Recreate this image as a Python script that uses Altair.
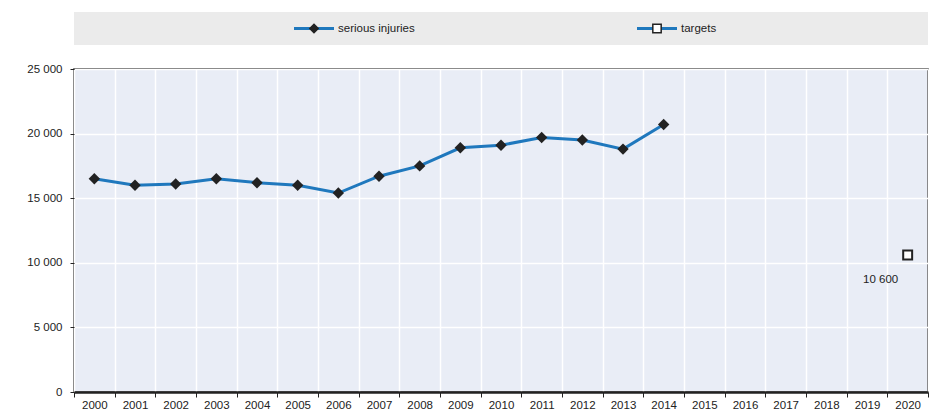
import altair as alt
import pandas as pd

years_all = list(range(2000, 2021))
inj_years = list(range(2000, 2015))
inj_values = [16500, 16000, 16100, 16500, 16200, 16000, 15400, 16700, 17500,
              18900, 19100, 19700, 19500, 18800, 20700]
target_years = [2020]
target_values = [10600]
y_ticks = [0, 5000, 10000, 15000, 20000, 25000]

legend_labels = ["serious injuries", "targets"]
legend_shapes = ["diamond", "square"]
legend_fills = ["#222222", "white"]
legend_center = [240, 583]

FONT = "Liberation Sans Narrow, Arial Narrow, Liberation Sans, Arial, sans-serif"
FS = 11.5
BLUE = "#1f78bd"
DARK = "#222222"
W, H = 854, 323

inj = pd.DataFrame({"year": inj_years, "value": inj_values})
tgt = pd.DataFrame({"year": target_years, "value": target_values})
tgt["label"] = [f"{v:,}".replace(",", " ") for v in target_values]

leg = pd.DataFrame({"label": legend_labels, "shape": legend_shapes,
                    "fill": legend_fills, "c": legend_center})
leg["x0"] = leg["c"] - 20
leg["x1"] = leg["c"] + 20
leg["tx"] = leg["c"] + 24

lx = alt.Scale(domain=[0, W], range=[0, W])
ybase = alt.value(16.5)
leg_line = alt.Chart(leg).mark_rule(color=BLUE, strokeWidth=3).encode(
    x=alt.X("x0:Q", scale=lx, axis=None), x2="x1:Q", y=ybase)
leg_pt = alt.Chart(leg).mark_point(filled=True, opacity=1, size=70, stroke=DARK, strokeWidth=1.5).encode(
    x=alt.X("c:Q", scale=lx, axis=None), y=ybase,
    shape=alt.Shape("shape:N", scale=None),
    fill=alt.Fill("fill:N", scale=None))
leg_txt = alt.Chart(leg).mark_text(align="left", baseline="middle", font=FONT, fontSize=FS, color=DARK).encode(
    x=alt.X("tx:Q", scale=lx, axis=None), y=ybase, text="label:N")
legend = alt.layer(leg_line, leg_pt, leg_txt).properties(
    width=W, height=33, view=alt.ViewBackground(fill="#ebebeb", stroke=None))

xenc = alt.X("year:O", scale=alt.Scale(domain=years_all, paddingInner=0, paddingOuter=0),
             axis=alt.Axis(title=None, labelAngle=0, tickBand="extent", grid=True,
                           gridColor="white", gridWidth=1.5, gridOpacity=1,
                           domainColor=DARK, domainWidth=2.5, tickColor=DARK, tickSize=5,
                           labelPadding=2, labelFont=FONT, labelFontSize=FS, labelColor=DARK))
yenc = alt.Y("value:Q", scale=alt.Scale(domain=[0, 25000], nice=False),
             axis=alt.Axis(title=None, values=y_ticks, grid=True, gridColor="white",
                           gridWidth=1.5, gridOpacity=1, domain=False,
                           tickColor=DARK, tickSize=4, labelPadding=8,
                           labelFont=FONT, labelFontSize=FS, labelColor=DARK,
                           labelExpr="replace(format(datum.value, ','), ',', ' ')",
                           minExtent=60, maxExtent=60))

line = alt.Chart(inj).mark_line(color=BLUE, strokeWidth=3).encode(x=xenc, y=yenc)
pts = alt.Chart(inj).mark_point(shape="diamond", filled=True, color=DARK, size=130, opacity=1).encode(
    x="year:O", y="value:Q")
tpt = alt.Chart(tgt).mark_point(shape="square", filled=True, fill="white", stroke=DARK,
                                strokeWidth=2, size=80, opacity=1).encode(x="year:O", y="value:Q")
ttxt = alt.Chart(tgt).mark_text(dx=-27, dy=25, font=FONT, fontSize=FS, color=DARK).encode(
    x="year:O", y="value:Q", text="label:N")

main = alt.layer(line, pts, tpt, ttxt).properties(
    width=W, height=H, view=alt.ViewBackground(fill="#e9edf6", stroke="#333333", strokeWidth=1.5))

chart = alt.vconcat(legend, main, spacing=17).properties(
    padding={"left": 5, "top": 4, "right": 5, "bottom": 2}
).configure(background="white")

chart.save("out.html", embed_options={"renderer": "svg", "actions": False})
